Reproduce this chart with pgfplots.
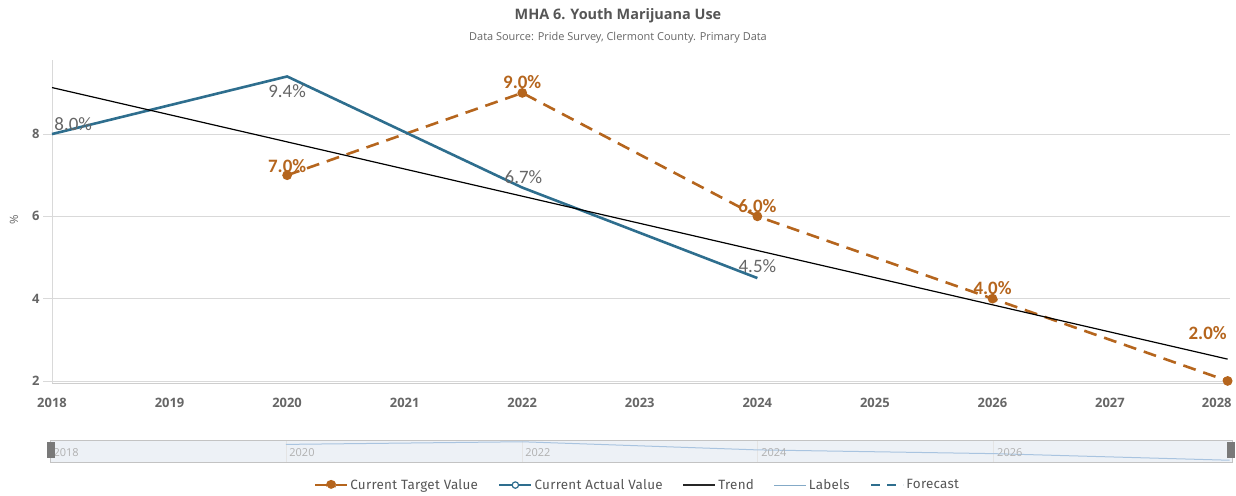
\documentclass[border=0pt]{standalone}
\usepackage{pgfplots}
\pgfplotsset{compat=1.18}
\usepackage{fontspec}
\setmainfont{Open Sans}
\newfontfamily\labfont{Carlito}
\newfontfamily\legfont[LetterSpace=2]{Fira Sans}
\definecolor{actblue}{HTML}{2E6E8E}
\definecolor{tgtorange}{HTML}{B5651D}
\definecolor{txtgray}{HTML}{666666}
\definecolor{titlegray}{HTML}{555555}
\definecolor{gridgray}{HTML}{D9D9D9}
\definecolor{navfill}{HTML}{EDF1F6}
\definecolor{navline}{HTML}{A9C4E0}
\definecolor{navtext}{HTML}{B0B0B0}
\begin{document}
\begin{tikzpicture}
\useasboundingbox (0,0) rectangle (1236bp,496bp);
\node[font=\bfseries\fontsize{14.5}{17}\selectfont, text=titlegray] at (618bp,480bp) {MHA 6. Youth Marijuana Use};
\node[font=\fontsize{11}{13}\selectfont, text=txtgray] at (618bp,458bp) {Data Source: Pride Survey, Clermont County. Primary Data};
\begin{axis}[
  at={(52bp,113bp)}, anchor=south west,
  scale only axis, width=1178bp, height=323bp,
  xmin=2018, xmax=2028.02, ymin=1.95, ymax=9.8,
  xtick={2018,2019,...,2028},
  xticklabels={2018,2019,2020,2021,2022,2023,2024,2025,2026,2027,\makebox[0pt][r]{2028\hspace*{-4bp}}},
  ytick={2,4,6,8},
  ymajorgrids, grid style={gridgray, line width=0.8bp},
  axis x line*=bottom, axis y line*=left,
  x axis line style={draw=gridgray!80!black!60, line width=0.8bp, -},
  y axis line style={draw=gridgray, line width=0.8bp, -},
  tick align=outside,
  x tick style={draw=none},
  y tick style={draw=gridgray, line width=0.8bp},
  major tick length=9bp,
  tick label style={font=\bfseries\fontsize{13}{15}\selectfont, text=txtgray},
  xticklabel style={yshift=-3bp},
  /pgf/number format/assume math mode=true,
  ylabel={\%},
  ylabel style={at={(axis description cs:-0.0323,0.505)}, anchor=center, font=\fontsize{11.5}{13}\selectfont, text=txtgray},
  clip=false,
  legend style={at={(0.497,-0.316)}, anchor=center, draw=none, fill=none,
    legend columns=5, font=\legfont\fontsize{13.5}{15}\selectfont, text=titlegray,
    /tikz/every even column/.append style={column sep=18bp}},
]
\addplot[tgtorange, line width=2.6bp, dash pattern=on 13bp off 8bp, mark=*, mark size=3.5bp, mark options={solid},
  legend image code/.code={\draw[tgtorange, line width=2.6bp] (0bp,0bp) -- (32bp,0bp); \fill[tgtorange] (16bp,0bp) circle (3.8bp);}]
  coordinates {(2020,7.0) (2022,9.0) (2024,6.0) (2026,4.0) (2028,2.0)};
\addlegendentry{Current Target Value}
\addplot[actblue, line width=2.6bp, mark=none,
  legend image code/.code={\draw[actblue, line width=2.6bp] (0bp,0bp) -- (32bp,0bp); \filldraw[fill=white, draw=actblue, line width=1.2bp] (16bp,0bp) circle (3.2bp);}]
  coordinates {(2018,8.0) (2020,9.4) (2022,6.7) (2024,4.5)};
\addlegendentry{Current Actual Value}
\addplot[black, line width=1.2bp, mark=none,
  legend image code/.code={\draw[black!85, line width=1.6bp] (0bp,0bp) -- (32bp,0bp);}]
  coordinates {(2018,9.13) (2028,2.53)};
\addlegendentry{Trend}
\addlegendimage{legend image code/.code={\draw[navline!70!actblue, line width=1bp] (0bp,0bp) -- (32bp,0bp);}}
\addlegendentry{Labels}
\addlegendimage{legend image code/.code={\draw[actblue, line width=2.8bp, dash pattern=on 9bp off 7bp] (0bp,0bp) -- (32bp,0bp);}}
\addlegendentry{Forecast}
% data labels
\node[font=\labfont\fontsize{19}{21}\selectfont, text=txtgray] at (axis cs:2018.18,8.24) {8.0\%};
\node[font=\labfont\fontsize{19}{21}\selectfont, text=txtgray] at (axis cs:2020,9.05) {9.4\%};
\node[font=\labfont\fontsize{19}{21}\selectfont, text=txtgray] at (axis cs:2022.01,6.96) {6.7\%};
\node[font=\labfont\fontsize{19}{21}\selectfont, text=txtgray] at (axis cs:2024,4.78) {4.5\%};
\node[font=\labfont\bfseries\fontsize{19}{21}\selectfont, text=tgtorange] at (axis cs:2020,7.23) {7.0\%};
\node[font=\labfont\bfseries\fontsize{19}{21}\selectfont, text=tgtorange] at (axis cs:2022,9.27) {9.0\%};
\node[font=\labfont\bfseries\fontsize{19}{21}\selectfont, text=tgtorange] at (axis cs:2024,6.24) {6.0\%};
\node[font=\labfont\bfseries\fontsize{19}{21}\selectfont, text=tgtorange] at (axis cs:2026,4.25) {4.0\%};
\node[font=\labfont\bfseries\fontsize{19}{21}\selectfont, text=tgtorange] at (axis cs:2027.83,3.17) {2.0\%};
\end{axis}
% navigator
\begin{axis}[
  at={(50bp,34bp)}, anchor=south west,
  scale only axis, width=1182bp, height=22bp,
  xmin=2018, xmax=2028.02, ymin=0, ymax=1,
  axis background/.style={fill=navfill},
  axis line style={draw=gridgray!90!black, line width=0.8bp},
  xtick={2020,2022,2024,2026}, ytick=\empty,
  xmajorgrids, grid style={draw=gridgray!70, line width=0.6bp},
  xticklabels={}, x tick style={draw=none},
  clip=false,
]
\addplot[navline, line width=1bp, mark=none] coordinates {(2020,0.8) (2022,0.92) (2024,0.55) (2026,0.38) (2028,0.08)};
\node[font=\fontsize{11}{12}\selectfont, text=navtext, anchor=west] at (axis cs:2018,0.45) {2018};
\node[font=\fontsize{11}{12}\selectfont, text=navtext, anchor=west] at (axis cs:2020,0.45) {2020};
\node[font=\fontsize{11}{12}\selectfont, text=navtext, anchor=west] at (axis cs:2022,0.45) {2022};
\node[font=\fontsize{11}{12}\selectfont, text=navtext, anchor=west] at (axis cs:2024,0.45) {2024};
\node[font=\fontsize{11}{12}\selectfont, text=navtext, anchor=west] at (axis cs:2026,0.45) {2026};
\end{axis}
\fill[gray!50!black!70] (47bp,38bp) rectangle (55bp,54bp);
\fill[gray!50!black!70] (1227bp,38bp) rectangle (1235bp,54bp);
\end{tikzpicture}
\end{document}
